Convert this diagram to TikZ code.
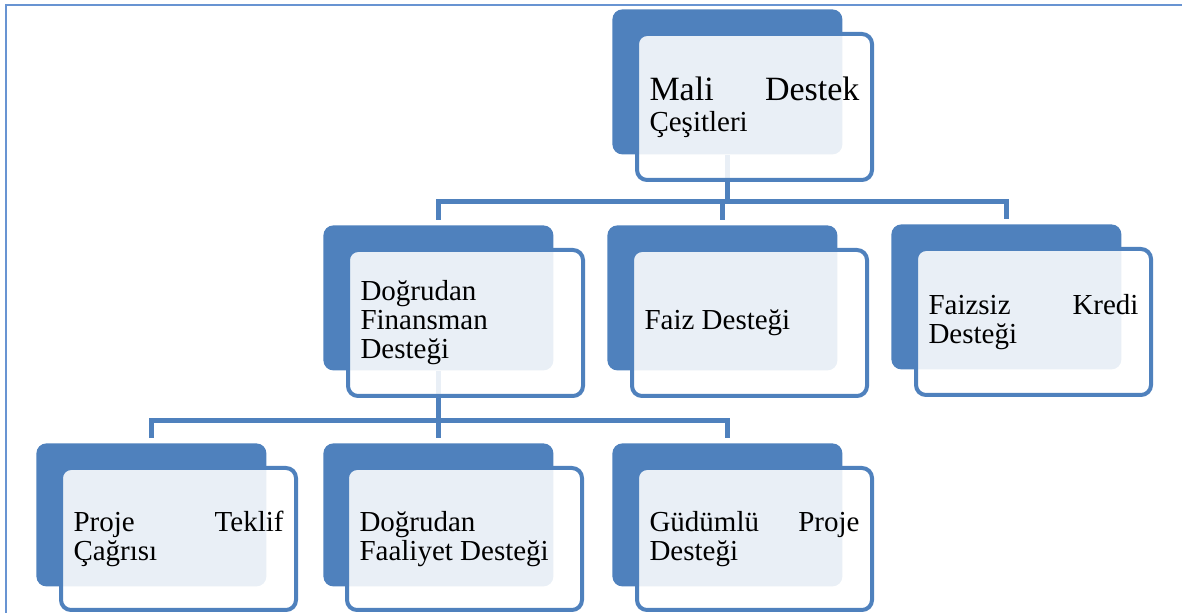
\documentclass[tikz,border=0pt]{standalone}
\usepackage{fontspec}
\setmainfont{Liberation Serif}
\newfontfamily\cardfont{Liberation Serif}
\setlength{\parindent}{0pt}
\definecolor{accent}{RGB}{79,129,189}
\definecolor{framecol}{RGB}{104,148,210}
\begin{document}
\begin{tikzpicture}[x=0.5pt,y=-0.5pt,
  backbox/.style={rectangle, rounded corners=5pt, fill=accent, inner sep=0pt,
    minimum width=115pt, minimum height=72.5pt, anchor=north west},
  lowback/.style={backbox, minimum height=71.5pt},
  frontbox/.style={rectangle, rounded corners=5pt, draw=accent, line width=2pt,
    fill=white, fill opacity=0.88, text opacity=1, draw opacity=1,
    minimum width=117.5pt, minimum height=73pt, text width=105pt,
    inner xsep=6.25pt, inner ysep=0pt, align=justify, anchor=north west,
    font=\cardfont\fontsize{14.5pt}{14.5pt}\selectfont},
  lowfront/.style={frontbox, minimum height=71pt},
  conn/.style={draw=accent, line width=2.5pt},
  frameline/.style={draw=framecol, line width=1.25pt, line join=miter}]
\useasboundingbox (0,0) rectangle (1182,613);

% outer frame
\draw[frameline] (6,613) -- (6,5) -- (1182,5);

% back plates
\node[backbox] (top-b)   at (612,9)   {};
\node[backbox] (fin-b)   at (323,225) {};
\node[backbox] (faiz-b)  at (607,225) {};
\node[backbox] (kredi-b) at (891,224) {};
\node[lowback] (prop-b)  at (36,443)  {};
\node[lowback] (fal-b)   at (323,443) {};
\node[lowback] (gud-b)   at (612,443) {};

% bus levels
\coordinate (bus1) at (0,202);
\coordinate (bus2) at (0,421);

% connectors
\draw[conn] (top-b.south) -- (top-b.south |- bus1);
\draw[conn] ([yshift=2.5pt]fin-b.north) -- (fin-b.north |- bus1)
  -- (kredi-b.north |- bus1) -- ([yshift=2.5pt]kredi-b.north);
\draw[conn] (faiz-b.north |- bus1) -- ([yshift=2.5pt]faiz-b.north);

\draw[conn] (fin-b.south) -- (fin-b.south |- bus2);
\draw[conn] ([yshift=2.5pt]prop-b.north) -- (prop-b.north |- bus2)
  -- (gud-b.north |- bus2) -- ([yshift=2.5pt]gud-b.north);
\draw[conn] (fal-b.north |- bus2) -- ([yshift=2.5pt]fal-b.north);

% front cards with labels
\node[frontbox] (top) at ([xshift=11.5pt,yshift=-11.5pt]top-b.north west)
  {{\fontsize{17pt}{17pt}\selectfont Mali\hfill Destek}\\[1pt]Çeşitleri};
\node[frontbox] (fin) at ([xshift=11.5pt,yshift=-11.5pt]fin-b.north west)
  {Doğrudan\\Finansman\\Desteği};
\node[frontbox] (faiz) at ([xshift=11.5pt,yshift=-11.5pt]faiz-b.north west)
  {Faiz Desteği};
\node[frontbox] (kredi) at ([xshift=11.5pt,yshift=-11.5pt]kredi-b.north west)
  {Faizsiz\hfill Kredi\\Desteği};
\node[lowfront] (prop) at ([xshift=11.5pt,yshift=-11.5pt]prop-b.north west)
  {Proje\hfill Teklif\\Çağrısı};
\node[lowfront] (fal) at ([xshift=11pt,yshift=-11.5pt]fal-b.north west)
  {Doğrudan\\Faaliyet Desteği};
\node[lowfront] (gud) at ([xshift=11.5pt,yshift=-11.5pt]gud-b.north west)
  {Güdümlü\hfill Proje\\Desteği};
\end{tikzpicture}
\end{document}
